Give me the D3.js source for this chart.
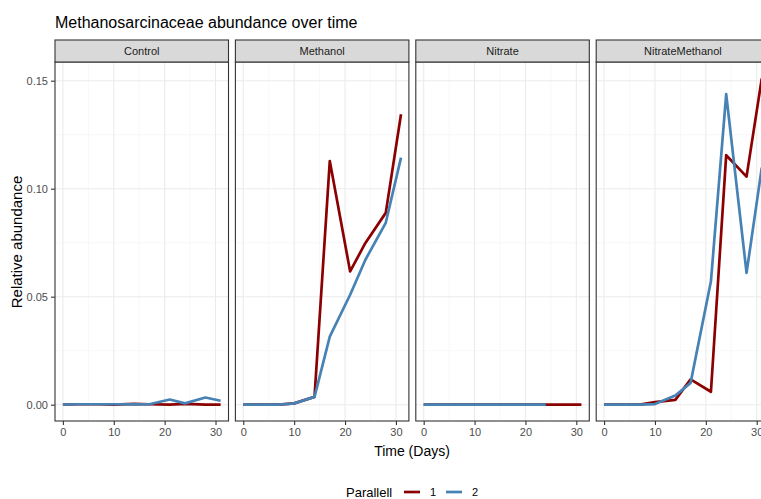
<!DOCTYPE html>
<html>
<head>
<meta charset="utf-8">
<script src="https://cdn.jsdelivr.net/npm/d3@7"></script>
<style>
  html, body { margin: 0; padding: 0; background: #fff; }
  svg { display: block; font-family: "Liberation Sans", Arial, sans-serif; }
</style>
</head>
<body>
<svg id="chart" width="761" height="499"></svg>
<script>
// Sampling days and facets
const days = [0, 3, 7, 10, 14, 17, 21, 24, 28, 31];
const treatments = ["Control", "Methanol", "Nitrate", "NitrateMethanol"];
const parallels = ["1", "2"];

// Relative abundance per treatment, parallel 1
const controlP1 = [0, 0.0002, 0.0002, 0, 0.0004, 0.0002, 0, 0.0004, 0, 0];
const methanolP1 = [0, 0, 0, 0.0006, 0.0036, 0.1128, 0.0617, 0.0749, 0.0888, 0.1345];
const nitrateP1 = [0, 0, 0, 0, 0, 0, 0, 0, 0, 0];
const nitrateMethanolP1 = [0, 0, 0, 0.0012, 0.0022, 0.0117, 0.0060, 0.1155, 0.1056, 0.1511];

// Relative abundance per treatment, parallel 2 (null = not sampled)
const controlP2 = [0, 0.0002, 0.0002, 0.0002, 0.0001, 0.0002, 0.0024, 0.0006, 0.0033, 0.0018];
const methanolP2 = [0, 0, 0, 0.0006, 0.0036, 0.0315, 0.0509, 0.0671, 0.0842, 0.1144];
const nitrateP2 = [0, 0, 0, 0, 0, 0, 0, 0, null, null];
const nitrateMethanolP2 = [0, 0, 0, 0.0003, 0.0042, 0.0101, 0.0571, 0.1438, 0.0610, 0.1098];

const yTicks = [0, 0.05, 0.10, 0.15];
const yMinor = [0.025, 0.075, 0.125];
const xTicks = [0, 10, 20, 30];
const xMinor = [5, 15, 25];

const seriesByTreatment = {
  Control: [controlP1, controlP2],
  Methanol: [methanolP1, methanolP2],
  Nitrate: [nitrateP1, nitrateP2],
  NitrateMethanol: [nitrateMethanolP1, nitrateMethanolP2]
};
const colour = d3.scaleOrdinal().domain(parallels).range(["#8b0000", "#4682b4"]);

const svg = d3.select("#chart");

// Layout
const panelLeft0 = 55, panelStep = 180.4, panelW = 173.5;
const stripTop = 40, stripH = 22;
const panelTop = stripTop + stripH, panelBottom = 421;

// Shared scales (ggplot-style 5% expansion)
const xMin = 0, xMax = 31, xPad = (xMax - xMin) * 0.05;
const yMax = 0.1511, yPad = yMax * 0.05;
const x = d3.scaleLinear().domain([xMin - xPad, xMax + xPad]).range([0, panelW]);
const y = d3.scaleLinear().domain([-yPad, yMax + yPad]).range([panelBottom, panelTop]);

// Title
svg.append("text")
  .attr("x", 55).attr("y", 28)
  .attr("font-size", 16).attr("fill", "#000")
  .text("Methanosarcinaceae abundance over time");

treatments.forEach((t, i) => {
  const g = svg.append("g").attr("transform", `translate(${panelLeft0 + i * panelStep},0)`);

  // background + grid
  g.append("rect").attr("x", 0).attr("y", panelTop).attr("width", panelW)
    .attr("height", panelBottom - panelTop).attr("fill", "#fff");
  g.selectAll(".ymin").data(yMinor).join("line")
    .attr("x1", 0).attr("x2", panelW).attr("y1", d => y(d)).attr("y2", d => y(d))
    .attr("stroke", "#f3f3f3").attr("stroke-width", 0.6);
  g.selectAll(".xmin").data(xMinor).join("line")
    .attr("y1", panelTop).attr("y2", panelBottom).attr("x1", d => x(d)).attr("x2", d => x(d))
    .attr("stroke", "#f3f3f3").attr("stroke-width", 0.6);
  g.selectAll(".ymaj").data(yTicks).join("line")
    .attr("x1", 0).attr("x2", panelW).attr("y1", d => y(d)).attr("y2", d => y(d))
    .attr("stroke", "#ebebeb").attr("stroke-width", 1.1);
  g.selectAll(".xmaj").data(xTicks).join("line")
    .attr("y1", panelTop).attr("y2", panelBottom).attr("x1", d => x(d)).attr("x2", d => x(d))
    .attr("stroke", "#ebebeb").attr("stroke-width", 1.1);

  // data lines
  const clipId = "clip" + i;
  g.append("clipPath").attr("id", clipId).append("rect")
    .attr("x", 0).attr("y", panelTop).attr("width", panelW).attr("height", panelBottom - panelTop);
  const line = d3.line()
    .defined(d => d.v !== null)
    .x(d => x(d.day)).y(d => y(d.v));
  seriesByTreatment[t].forEach((vals, k) => {
    const pts = days.map((day, j) => ({ day, v: vals[j] }));
    g.append("path").datum(pts)
      .attr("clip-path", `url(#${clipId})`)
      .attr("d", line)
      .attr("fill", "none")
      .attr("stroke", colour(parallels[k]))
      .attr("stroke-width", 2.7)
      .attr("stroke-linejoin", "round");
  });

  // panel border
  g.append("rect").attr("x", 0).attr("y", panelTop).attr("width", panelW)
    .attr("height", panelBottom - panelTop).attr("fill", "none")
    .attr("stroke", "#333").attr("stroke-width", 1.1);

  // strip
  g.append("rect").attr("x", 0).attr("y", stripTop).attr("width", panelW).attr("height", stripH)
    .attr("fill", "#d9d9d9").attr("stroke", "#333").attr("stroke-width", 1.1);
  g.append("text").attr("x", panelW / 2).attr("y", stripTop + stripH / 2 + 4)
    .attr("text-anchor", "middle").attr("font-size", 11).attr("fill", "#1a1a1a")
    .text(t);

  // x axis
  const xa = g.append("g").attr("transform", `translate(0,${panelBottom})`)
    .call(d3.axisBottom(x).tickValues(xTicks).tickSize(4).tickPadding(3).tickFormat(d3.format("d")));
  xa.select(".domain").remove();
  xa.selectAll("line").attr("stroke", "#333").attr("stroke-width", 1.1);
  xa.selectAll("text").attr("font-size", 11).attr("fill", "#4d4d4d")
    .attr("font-family", "Liberation Sans, Arial, sans-serif");

  // y axis on first panel only
  if (i === 0) {
    const ya = g.append("g")
      .call(d3.axisLeft(y).tickValues(yTicks).tickSize(4).tickPadding(3).tickFormat(d3.format(".2f")));
    ya.select(".domain").remove();
    ya.selectAll("line").attr("stroke", "#333").attr("stroke-width", 1.1);
    ya.selectAll("text").attr("font-size", 11).attr("fill", "#4d4d4d")
      .attr("font-family", "Liberation Sans, Arial, sans-serif");
  }
});

// Axis titles
svg.append("text")
  .attr("x", 412).attr("y", 456)
  .attr("text-anchor", "middle").attr("font-size", 14).attr("fill", "#000")
  .text("Time (Days)");
svg.append("text")
  .attr("transform", "translate(22,242) rotate(-90)")
  .attr("text-anchor", "middle").attr("font-size", 15).attr("fill", "#000")
  .text("Relative abundance");

// Legend
const lg = svg.append("g").attr("transform", "translate(0,492)");
lg.append("text").attr("x", 346).attr("y", 4.5).attr("font-size", 13).attr("fill", "#000").text("Parallell");
const keyX = [404, 446];
parallels.forEach((p, k) => {
  lg.append("line").attr("x1", keyX[k]).attr("x2", keyX[k] + 16).attr("y1", 0).attr("y2", 0)
    .attr("stroke", colour(p)).attr("stroke-width", 2.7);
  lg.append("text").attr("x", keyX[k] + 26).attr("y", 4).attr("font-size", 11).attr("fill", "#000").text(p);
});
</script>
</body>
</html>
